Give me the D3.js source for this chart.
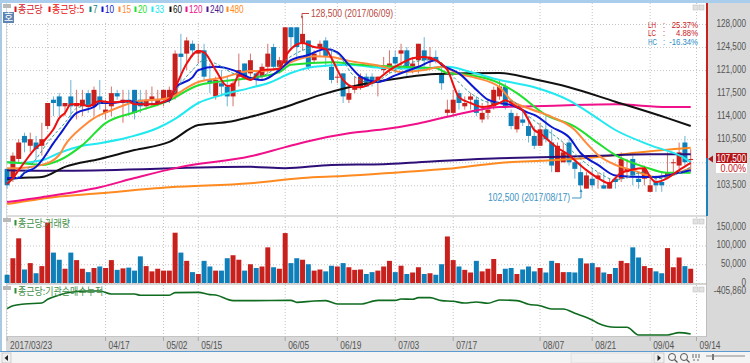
<!DOCTYPE html>
<html>
<head>
<meta charset="utf-8">
<script src="https://cdn.jsdelivr.net/npm/d3@7/dist/d3.min.js"></script>
<style>
html, body { margin: 0; padding: 0; background: #fff; overflow: hidden; }
text { font-family: "Liberation Sans", "Noto Sans CJK KR", sans-serif; font-size: 10px; }
.kr { font-family: "Noto Sans CJK KR", sans-serif; }
.tickText { fill: #555; }
</style>
</head>
<body>
<div id="chart"></div>
<script>
// prices in thousand won, one entry per trading day
var opens = [106,104.5,107.5,111,109.5,110,109.5,112.5,116.5,117,115.5,117,115.5,115.5,117.5,115.5,117,114.5,115.5,117.5,
    116,116.5,118,116.5,115.5,116.5,116,116.5,116.5,117,123.5,123.5,125,123.5,124,119.5,117,119,118.5,117,
    120,122,120.5,120.5,120,121.5,124.5,121.5,122,127.5,127.5,125,125.5,122.5,124.5,125.5,121.5,120,120.5,116.5,
    118,118.5,120,120,119.5,121,121.5,123,123.5,124,121.5,122.5,124,122.5,123,120.5,114.5,114.5,117.5,115.5,
    116.5,116.5,113.5,114.5,115.5,117,118.5,114.5,112,113.5,112.5,111,109.5,112,110,105.5,107,110,107,105.5,
    103,104.5,104.5,103.5,103,104.5,104.5,105.5,107.5,104.5,104.5,102.5,104,104,105,107,106.5,110,107.5];
var closes = [103.5,108,110,110,110.5,109,110.5,116,116,115.5,116,115.5,116,116.5,115.5,118,116,115,117.5,117,
    116.5,116,114.5,115.5,116.5,117,116.5,118,118,123.5,123,125.5,124,124,120,119,119.5,118.5,117,119,
    121,120,122.5,119.5,121.5,123.5,121.5,122.5,127.5,126,124.5,126.5,121.5,123.5,125,123,119.5,120,117,117.5,
    118.5,120,118.5,119,120,121.5,122,122,124,121.5,122,125,122.5,123,122.5,119,115,116.5,116,116,
    117,114.5,114.5,115,118,118.5,115.5,112.5,114,113,111,109.5,112,110.5,106.5,109.5,108.5,107,106,103.5,
    105,103.5,105,103,104,104,107.5,106,105,104,106,103.5,103.5,103.5,105.5,107,108.5,107,107.5];
var highs = [106,108.5,110.5,111.5,111.5,111,113,116,117,117.5,116,119.5,118,118,118,118.5,119.5,116.5,118.5,118,
    118,118,118,118,118,118.5,118,118,118.5,124,126.5,126,125.5,125,125,122,120,121,120,119.5,
    123.5,122,123.5,121,122,125,125,123,127.5,127.5,127.5,129,125.5,124,125.5,126,124,120.5,120.5,118.5,
    120,120.5,120.5,120.5,120,123,124,124,125,124.5,123,125,126,124.5,124,121.5,116.5,118,118,117,
    117.5,117,116,116.5,118.5,119.5,119,115,114.5,115,114,112.5,113,114,112,110,110,110.5,108,107,
    105.5,106,105.5,105.5,104.5,104.5,108.5,107.5,108,105.5,106.5,105,105,105.5,108.5,107.5,110,111,109];
var lows = [103,104,107,108.5,108.5,107.5,108,112,114,114,114,113.5,113.5,114,114.5,114,115,113.5,114,116.5,
    113,114,113.5,114.5,115,115.5,115.5,115.5,116,116.5,119,121,123,122,119.5,117.5,116.5,117,115.5,115.5,
    118.5,119.5,120,118.5,119.5,120.5,121,120.5,121.5,124,123,124,121,122,123,121.5,119,119,116,116,
    117.5,118,118.5,118.5,117,120.5,120.5,120.5,121,120,120.5,120.5,121.5,121.5,122,118,114,114,115,115,
    115,114,113,113.5,115,116.5,115,112,111.5,112.5,110,109,109.5,110,105.5,105.5,107,106.5,104.5,102.5,
    103,103,103,103,103,103,104,104.5,103.5,103,103.5,102.5,102.5,102.5,104.5,105,106,106.5,105.5];

// volume, thousand shares
var volumes = [22,66,119,36,53,26,45,161,81,62,38,81,61,38,29,40,44,40,61,35,
    39,41,33,71,45,31,38,33,33,134,81,59,29,24,59,44,33,33,66,74,
    62,33,50,40,44,95,42,38,133,53,66,62,50,33,36,31,46,44,53,42,
    35,36,24,29,33,44,59,29,46,24,28,42,24,26,22,50,124,61,44,35,
    28,59,31,38,64,24,38,40,24,36,44,31,40,28,59,53,29,29,28,66,
    52,53,42,28,24,40,59,53,95,68,45,40,31,26,93,42,68,45,38];

// moving averages as [day index, price]
var ma5 = [[0,103.7],[1,104.6],[2,105.8],[3,107],[5,109.2],[6,109.9],[7,110.9],[8,112],[9,113.7],[10,114.5],[11,115.8],[13,115.8],[14,115.5],[16,116.3],[18,116.1],[21,116.3],[22,115.8],[25,115.8],[28,116.6],[29,118.3],[31,122],[33,123.9],[34,123.7],[36,121],[38,118.6],[39,118.7],[40,120.2],[42,119.5],[44,121],[47,121.2],[48,123],[49,124.2],[51,125.1],[53,124.5],[55,124.2],[56,122.8],[58,119.5],[60,118.4],[61,118.4],[64,119.6],[66,121],[68,122],[70,122.8],[72,123],[74,122.5],[76,121],[78,116.9],[80,116],[82,115.4],[85,116],[86,116.4],[88,115.4],[89,114.9],[90,113.4],[91,111.9],[92,111.4],[94,109.9],[95,109.2],[97,108.1],[98,107.3],[100,105.8],[102,104.6],[104,103.8],[105,104.6],[106,105.4],[110,106.1],[111,104.75],[112,104],[114,104.6],[116,105.8],[118,106.9]];
var ma7 = [[0,104],[3,105.5],[5,107.5],[7,110],[10,113],[12,115.2],[16,116],[21,116.2],[25,115.9],[28,116.6],[30,119],[32,121],[34,122.5],[36,122],[39,120.5],[42,119.7],[45,120.5],[48,122.5],[51,124],[54,124.5],[57,123.5],[60,120],[63,119],[66,120.5],[70,122.2],[74,122.6],[77,120],[80,117.5],[84,116],[87,116.3],[90,114],[93,112],[96,110],[99,107.5],[102,105.5],[105,104.3],[110,105.5],[112,104.5],[115,105],[118,106.3]];
var ma10 = [[0,104.6],[2,104.6],[3,105.4],[5,106.3],[6,107.3],[8,109.9],[9,111.1],[10,112.35],[11,113.6],[12,114.5],[15,115.4],[16,116],[18,116],[21,116.3],[24,115.8],[28,116.4],[29,118.3],[32,119.9],[33,121],[36,121.5],[39,121],[42,119.8],[44,119.5],[47,121],[49,122.5],[52,123.3],[55,124.2],[57,123.7],[59,121.8],[61,120],[64,119.2],[67,120.2],[71,121.5],[74,122.5],[75,121.8],[78,120.5],[81,118],[83,116.5],[85,116],[87,115.7],[90,114.5],[91,114.2],[94,112.35],[97,110.8],[99,108.4],[102,106.6],[105,105],[110,104.75],[112,104.75],[116,105.4],[118,105.8]];
var ma15 = [[0,106.1],[2,106.1],[6,106.6],[9,108.1],[10,109.6],[13,112.35],[15,113.7],[18,114.9],[22,116.15],[28,116.75],[31,118.3],[33,119.2],[37,119.8],[42,120.85],[44,120.85],[47,121.3],[49,122.2],[53,123.1],[56,123],[59,122.4],[65,121.5],[68,120.7],[72,121],[75,121.5],[78,120.4],[81,119.8],[85,118.4],[87,116.4],[90,115.2],[94,113.9],[98,111.9],[100,109.9],[102,108.1],[105,106.6],[108,105.8],[112,104.75],[118,106.1]];
var ma20 = [[0,107],[2,106.9],[6,106.6],[9,107.3],[13,109.6],[17,112.95],[22,114.6],[28,116.4],[33,118.7],[39,119.5],[42,119.8],[47,120.7],[49,121.8],[56,122.2],[61,121.8],[68,121.5],[74,121.3],[76,120.55],[80,120.25],[85,119],[88,117.5],[93,114.2],[98,112.4],[102,109.9],[105,108.1],[110,106.3],[114,105.4],[118,105.4]];
var ma33 = [[0,107],[2,106.9],[6,107.3],[9,108.4],[13,109.5],[16,109.9],[21,110.8],[26,112.2],[29,113.6],[33,116],[37,117.2],[42,118.3],[45,119],[49,120.55],[53,121.5],[59,121.8],[65,121.3],[71,121.2],[76,121.5],[80,120.7],[85,119.5],[91,118.4],[97,116.4],[101,114.2],[105,111.9],[111,109.6],[117,107.6],[118,107]];
var ma60 = [[0,104.45],[2,104.6],[6,104.75],[10,106.3],[16,107.5],[22,108.85],[28,110.1],[33,112.65],[38,113.1],[42,113.9],[48,115.4],[54,117.2],[59,118.4],[68,119.8],[74,120.4],[85,120.55],[91,119.6],[97,118.4],[105,116.2],[114,113.7],[118,112.5]];
var ma120 = [[0,100.95],[6,101.7],[16,103.2],[22,104.6],[30,106.3],[42,107.9],[48,109.3],[52,110.2],[59,111.4],[65,112],[71,112.9],[76,113.9],[85,115.4],[91,115.5],[98,115.7],[105,115.8],[114,115.4],[118,115.4]];
var ma240 = [[0,105.8],[10,105.7],[42,106.3],[48,106.1],[56,106.6],[65,106.7],[71,107],[85,107.6],[94,107.8],[102,108],[111,108.2],[118,108.2]];
var ma480 = [[0,100.65],[8,101.7],[16,102.3],[28,103.2],[42,103.8],[51,104.6],[58,104.9],[68,105.5],[76,106],[85,106.9],[94,107.3],[102,107.8],[109,108.5],[118,109.2]];

// institutional net buying, cumulative, thousand shares
var instNet = [[0,-644],[1,-604],[3,-581],[6,-568],[7,-518],[9,-460],[11,-424],[14,-406],[16,-406],[18,-446],[22,-446],[23,-464],[28,-464],[29,-428],[33,-424],[35,-455],[36,-460],[39,-536],[42,-536],[49,-532],[50,-559],[53,-541],[55,-536],[57,-582],[61,-582],[64,-532],[67,-532],[68,-514],[70,-518],[71,-496],[73,-496],[75,-536],[77,-545],[79,-568],[81,-554],[83,-572],[85,-527],[88,-536],[90,-586],[92,-604],[94,-649],[96,-649],[98,-707],[101,-797],[102,-842],[105,-896],[107,-896],[109,-1000],[114,-1000],[116,-968],[118,-986]];

var dayTicks = [0,17,27,33,48,57,67,77,92,101,111,119];
var dayLabels = ["2017/03/23","04/17","05/02","05/15","06/05","06/19","07/03","07/17","08/07","08/21","09/04","09/14"];
var extraGridDay = 7;
var priceTicks = [128,124.5,121,117.5,114,110.5,107,103.5];
var volumeTicks = [0,50,100,150];
var legendNames = ["종근당","종근당:5","7","10","15","20","33","60","120","240","480"];
var legendColors = ["#d8141c","#ee1010","#11807c","#0a18d0","#ff8a3c","#22e030","#22e8f0","#111111","#f0108a","#4a1a90","#ff8a20"];
var legendX = [18,52,93,105,122,138,155,173,189,210,230];

var width = 750, height = 363;
var plotLeft = 6, plotRight = 706;
var RED = "#c8201c", BLUE = "#0f7fb9", AXISBG = "#d9d9d9";

var svg = d3.select("#chart").append("svg")
    .attr("width", width)
    .attr("height", height)
    .style("display", "block");

var x = d3.scaleBand().domain(d3.range(120)).range([3.8, 699.8]).padding(0.14);
var cx = i => x(i) + x.bandwidth() / 2;
var y = d3.scaleLinear().domain([103.5, 128]).range([185.3, 24]);
var yVol = d3.scaleLinear().domain([0, 150]).range([283, 226.7]);
var yInst = d3.scaleLinear().domain([-1000, -406]).range([335, 291]);

// window chrome
svg.append("rect").attr("width", width).attr("height", 3).attr("fill", "#a9cdea");
svg.append("rect").attr("x", 707).attr("y", 3).attr("width", 43).attr("height", 334).attr("fill", AXISBG);
svg.append("rect").attr("x", 0).attr("y", 3).attr("width", 2).attr("height", 349).attr("fill", "#a9c8e2");
svg.append("rect").attr("x", 6).attr("y", 3).attr("width", 1).attr("height", 334).attr("fill", "#d8d8d8");
svg.append("rect").attr("x", 6).attr("y", 337).attr("width", 744).attr("height", 14).attr("fill", AXISBG);
svg.append("rect").attr("x", 0).attr("y", 351).attr("width", width).attr("height", 1).attr("fill", "#5b9bd0");
svg.append("rect").attr("x", 0).attr("y", 352).attr("width", width).attr("height", 11).attr("fill", "#f4f4f4");
svg.append("rect").attr("x", 6).attr("y", 215).attr("width", 701).attr("height", 2).attr("fill", "#dcdcdc");
svg.append("rect").attr("x", 6).attr("y", 283).attr("width", 701).attr("height", 2).attr("fill", "#d6d6d6");
svg.append("rect").attr("x", 6).attr("y", 336).attr("width", 701).attr("height", 1).attr("fill", "#c4c4c4");
svg.append("rect").attr("x", 706).attr("y", 216).attr("width", 1).attr("height", 121).attr("fill", "#bdbdbd");

// vertical dotted grid, one strip per panel
[[3, 215, dayTicks.concat(extraGridDay)], [217, 283, dayTicks.concat(extraGridDay)], [285, 336, dayTicks]].forEach(function (p) {
    svg.append("g").selectAll("line")
        .data(p[2])
        .enter().append("line")
        .attr("x1", d => cx(d)).attr("x2", d => cx(d))
        .attr("y1", d => p[0] === 3 && cx(d) < 245 ? 23 : p[0])
        .attr("y2", p[1])
        .attr("stroke", "#c4c4c4")
        .attr("stroke-dasharray", "1,2");
});

// source font is a narrow bitmap one, so glyphs get squeezed sideways
function squeeze(sel, px, py, sx) {
    sel.attr("x", 0).attr("y", 0).attr("dy", 0)
        .attr("transform", `translate(${px},${py}) scale(${sx},1)`);
}

function styleAxis(g, dy) {
    g.select(".domain").remove();
    g.selectAll(".tick line")
        .attr("stroke", "#c4c4c4")
        .attr("stroke-dasharray", "1,2");
    g.selectAll(".tick text")
        .attr("class", "tickText")
        .attr("text-anchor", "end")
        .call(squeeze, 40, dy, 0.82);
}

// Add the price axis, the 107,000 label sits under the current price tag in the source
svg.append("g")
    .attr("transform", `translate(${plotRight},0)`)
    .call(d3.axisRight(y).tickValues(priceTicks).tickSize(-(plotRight - plotLeft))
        .tickFormat(d => d === 107 ? "" : d3.format(",")(d * 1000)))
    .call(styleAxis, 2);

// Add the volume axis
svg.append("g")
    .attr("transform", `translate(${plotRight},0)`)
    .call(d3.axisRight(yVol).tickValues(volumeTicks).tickSize(-(plotRight - plotLeft))
        .tickFormat(d => d3.format(",")(d * 1000)))
    .call(styleAxis, 2.5);

// Add the bottom axis
var xAxis = svg.append("g")
    .attr("transform", "translate(0,337)")
    .call(d3.axisBottom(x).tickValues(dayTicks).tickSize(4)
        .tickFormat((d, i) => dayLabels[i]));
xAxis.select(".domain").remove();
xAxis.selectAll(".tick line").attr("stroke", "#aaa");
xAxis.selectAll(".tick text")
    .attr("class", "tickText")
    .attr("text-anchor", "start")
    .call(squeeze, 3, 11.5, 0.84);

// candles
var days = d3.range(opens.length);
var isUp = i => closes[i] >= opens[i];
svg.append("g").selectAll("line")
    .data(days)
    .enter().append("line")
    .attr("x1", d => cx(d)).attr("x2", d => cx(d))
    .attr("y1", d => y(highs[d])).attr("y2", d => y(lows[d]))
    .attr("stroke", d => isUp(d) ? "#d4736c" : "#6fb4d8");
svg.append("g").selectAll("rect")
    .data(days)
    .enter().append("rect")
    .attr("x", d => x(d))
    .attr("width", x.bandwidth())
    .attr("y", d => y(Math.max(opens[d], closes[d])))
    .attr("height", d => Math.max(1, Math.abs(y(opens[d]) - y(closes[d]))))
    .attr("fill", d => isUp(d) ? RED : BLUE);

// moving averages, slowest underneath
var line = d3.line().curve(d3.curveMonotoneX).x(d => cx(d[0])).y(d => y(d[1]));
[
    [ma480, "#ff8a20", 2, null],
    [ma240, "#2e0f78", 2, null],
    [ma120, "#f0108a", 2, null],
    [ma60, "#111111", 2, null],
    [ma33, "#22e8f0", 2, null],
    [ma20, "#22e030", 2, null],
    [ma15, "#ff8a3c", 2, null],
    [ma10, "#0a18d0", 2, null],
    [ma7, "#3a9a96", 1, "3,2"],
    [ma5, "#ee1010", 2, null]
].forEach(function (s) {
    svg.append("path")
        .attr("d", line(s[0]))
        .attr("fill", "none")
        .attr("stroke", s[1])
        .attr("stroke-width", s[2])
        .attr("stroke-dasharray", s[3]);
});

// volume bars
svg.append("g").selectAll("rect")
    .data(days)
    .enter().append("rect")
    .attr("x", d => x(d))
    .attr("width", x.bandwidth())
    .attr("y", d => yVol(volumes[d]))
    .attr("height", d => yVol(0) - yVol(volumes[d]))
    .attr("fill", d => isUp(d) ? RED : BLUE);

// institutional line
svg.append("path")
    .attr("d", d3.line().curve(d3.curveMonotoneX).x(d => cx(d[0])).y(d => yInst(d[1]))(instNet))
    .attr("fill", "none")
    .attr("stroke", "#0f6b1f")
    .attr("stroke-width", 1.6);

function label(px, py, txt, color, anchor, sx, size) {
    return svg.append("text")
        .style("font-size", (size || 10) + "px")
        .attr("fill", color)
        .attr("text-anchor", anchor || "start")
        .text(txt)
        .call(squeeze, px, py + 3.5, sx || 0.82);
}

label(746, 290.7, "-405,860", "#555", "end");

// high and low notes
label(311, 13.5, "128,500 (2017/06/09)", "#b8493f", "start", 0.86);
svg.append("path").attr("d", "M302,18V13.5H309").attr("fill", "none").attr("stroke", "#c8453c");
svg.append("path").attr("d", "M303,16L302,19L301,16Z").attr("fill", "#c8453c");
label(488, 197.5, "102,500 (2017/08/17)", "#3c93c4", "start", 0.86);
svg.append("path").attr("d", "M572,198H581V190").attr("fill", "none").attr("stroke", "#3c93c4");
svg.append("path").attr("d", "M579.5,192L581,189L582.5,192Z").attr("fill", "#3c93c4");

// range box
[["LH", "25.37%", 24, RED], ["LC", "4.88%", 32.5, RED], ["HC", "-16.34%", 41, "#2a8cc4"]].forEach(function (r) {
    label(648, r[2], r[0], r[3], "start", 0.7, 9);
    label(663, r[2], ":", r[3], "start", 0.8, 9);
    label(698, r[2], r[1], r[3], "end", 0.86, 9);
});

// current price marker
svg.append("rect").attr("x", 706).attr("y", 3).attr("width", 2).attr("height", 155).attr("fill", RED);
svg.append("rect").attr("x", 706).attr("y", 158).attr("width", 2).attr("height", 58).attr("fill", "#1f82c0");
svg.append("path").attr("d", "M708,159L713,155.5V162.5Z").attr("fill", "#b3161a");
svg.append("rect").attr("x", 716).attr("y", 153).attr("width", 31).attr("height", 10).attr("fill", "#b3161a");
svg.append("rect").attr("x", 716).attr("y", 163).attr("width", 31).attr("height", 10).attr("fill", "#fff");
label(746, 158, "107,500", "#fff", "end");
label(746, 168, "0.00%", RED, "end", 0.9);

// legend and panel titles
var legend = svg.append("g");
legend.selectAll("rect")
    .data(legendNames)
    .enter().append("rect")
    .attr("x", (d, i) => legendX[i] - 3.5)
    .attr("y", 6.5)
    .attr("width", 2)
    .attr("height", 5.5)
    .attr("fill", (d, i) => legendColors[i]);
legend.selectAll("text")
    .data(legendNames)
    .enter().append("text")
    .attr("class", d => /종/.test(d) ? "kr" : null)
    .attr("fill", (d, i) => legendColors[i])
    .text(d => d)
    .each(function (d, i) {
        d3.select(this).call(squeeze, legendX[i], 13, /종/.test(d) ? 0.9 : 0.82);
    });

[["종근당:거래량", 226.5], ["종근당:기관순매수누적", 294.5]].forEach(function (t) {
    svg.append("rect").attr("x", 14.5).attr("y", t[1] - 6.5).attr("width", 2).attr("height", 5.5).attr("fill", "#2f8f3a");
    svg.append("text").attr("class", "kr")
        .attr("fill", "#3f8f48")
        .text(t[0])
        .call(squeeze, 18, t[1], 0.9);
});

// panel grip icons and window buttons
[5, 219, 287].forEach(function (py) {
    svg.append("rect").attr("x", 3).attr("y", py - 1).attr("width", 8).attr("height", 4).attr("fill", "#b9b9b9");
    svg.append("rect").attr("x", 693).attr("y", py).attr("width", 5).attr("height", 5).attr("fill", "#e2e2e2").attr("stroke", "#bbb").attr("stroke-width", 0.5);
    svg.append("rect").attr("x", 699).attr("y", py).attr("width", 5).attr("height", 5).attr("fill", "#e2e2e2").attr("stroke", "#bbb").attr("stroke-width", 0.5);
});
svg.append("rect").attr("x", 3).attr("y", 12).attr("width", 11).attr("height", 11).attr("fill", "#5d84b2");
svg.append("text").attr("class", "kr").attr("x", 8.5).attr("y", 21).attr("text-anchor", "middle").attr("fill", "#fff").text("호");

// bottom toolbar
svg.append("rect").attr("x", 2).attr("y", 353).attr("width", 9).attr("height", 10).attr("fill", "#f0f0f0").attr("stroke", "#aaa").attr("stroke-width", 0.5);
svg.append("path").attr("d", "M4.5,358L8,355V361Z").attr("fill", "#222");
svg.append("rect").attr("x", 571).attr("y", 353).attr("width", 81).attr("height", 10).attr("fill", "#f0f0f0").attr("stroke", "#ccc").attr("stroke-width", 0.5);
svg.append("rect").attr("x", 654).attr("y", 353).attr("width", 10).attr("height", 10).attr("fill", "#f0f0f0").attr("stroke", "#aaa").attr("stroke-width", 0.5);
svg.append("path").attr("d", "M657.5,355L661,358L657.5,361Z").attr("fill", "#222");
[672, 684].forEach(function (mx) {
    svg.append("circle").attr("cx", mx).attr("cy", 357).attr("r", 3.5).attr("fill", "none").attr("stroke", "#555");
    svg.append("path").attr("d", `M${mx + 2.5},359.5L${mx + 5.5},362.5`).attr("stroke", "#555").attr("stroke-width", 1.3);
});
svg.append("path").attr("d", "M693,354V358M696,354V358M699,354V358M693,360H695M697,360H699").attr("stroke", "#666");
svg.append("path").attr("d", "M706,356H745").attr("stroke", "#888");
svg.append("rect").attr("x", 712).attr("y", 354).attr("width", 2).attr("height", 6).attr("fill", "#777");
</script>
</body>
</html>
